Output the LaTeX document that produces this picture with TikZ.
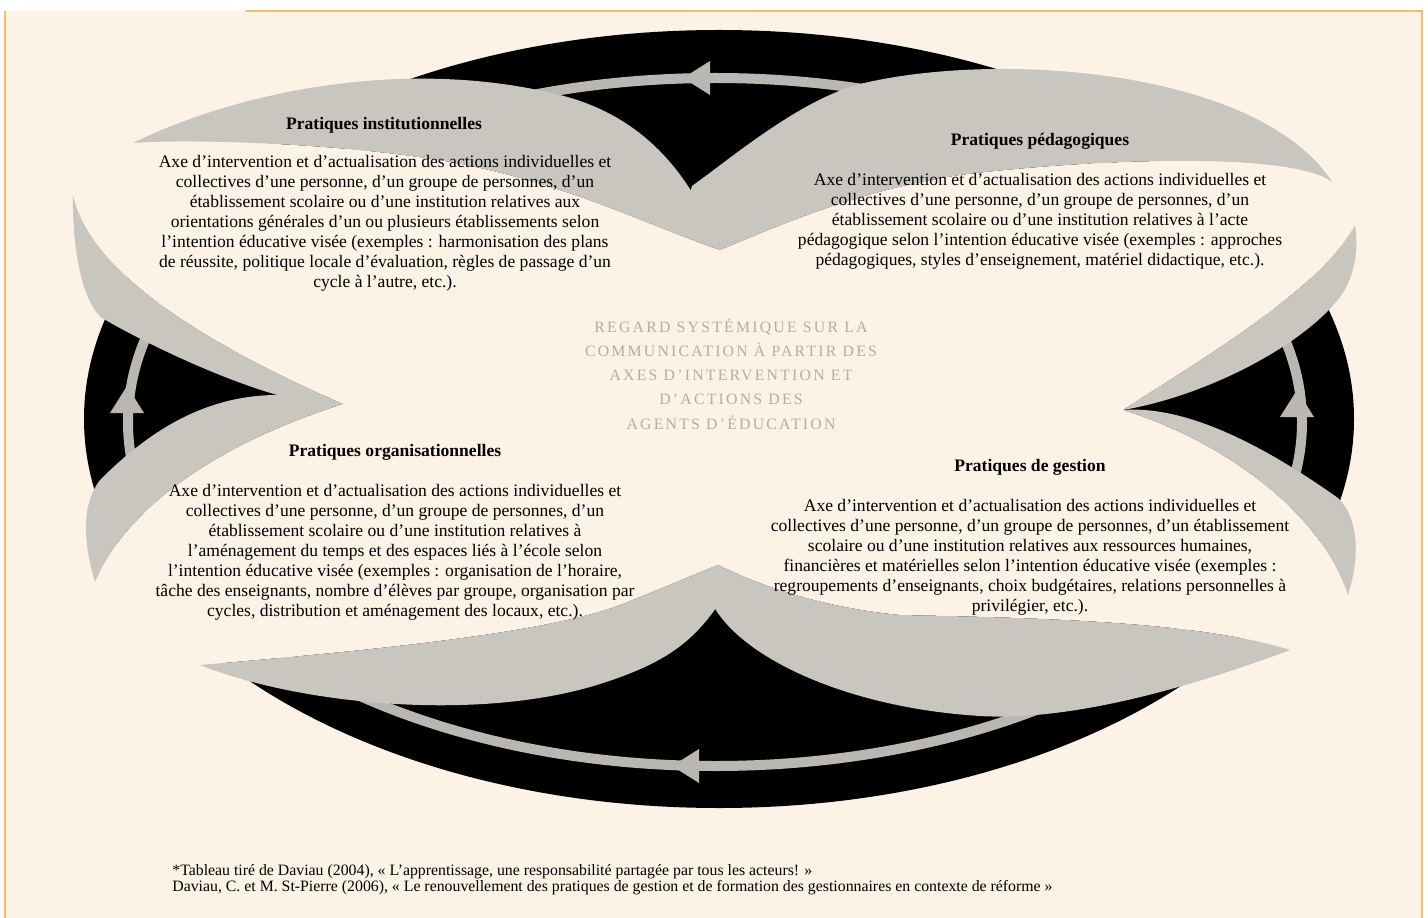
\documentclass[tikz,border=0pt]{standalone}
\usepackage{fontspec}
\setmainfont{Liberation Serif}
\newfontfamily\spacedfont[LetterSpace=14]{Liberation Serif}
\usepackage{tikz}
\usetikzlibrary{positioning}
\definecolor{mcream}{RGB}{253,242,230}
\definecolor{mgrey}{RGB}{201,197,191}
\definecolor{mring}{RGB}{186,182,177}
\definecolor{morange}{RGB}{246,190,105}
\definecolor{mtitle}{RGB}{180,172,166}

\begin{document}
\begin{tikzpicture}[x=0.2mm, y=-0.2mm,
    petal/.style={fill=mgrey},
    head/.style={font=\fontsize{10}{11.4}\selectfont\bfseries, inner sep=0pt},
    body/.style={font=\fontsize{10}{11.4}\selectfont, align=center, inner sep=0pt},
    centre/.style={font=\spacedfont\fontsize{9}{13.8}\selectfont, text=mtitle, align=center, inner sep=0pt},
    note/.style={font=\fontsize{9}{9.1}\selectfont, align=left, anchor=west, inner sep=0pt}]
      \useasboundingbox (0,0) rectangle (1428,918);
      \fill [white] (0,0) rectangle (1428,918);
      \fill [mcream] (5,11) rectangle (1422,918);
      \draw [morange, line width=0.5mm] (245,11) -- (1422,11) -- (1422,918);
      \draw [morange, line width=0.5mm] (5,11) -- (5,918);

      \fill (719,419) ellipse [x radius=635, y radius=389];
      \draw [mring, line width=2mm] (715,422) ellipse [x radius=587, y radius=344];
      \foreach \tx/\ty in {683/78, 672/766} {
        \fill [mring] (\tx,\ty) -- ++(27,-17) -- ++(0,34) -- cycle;
      }
      \foreach \tx/\ty in {127/386, 1297/390} {
        \fill [mring] (\tx,\ty) -- ++(-17,27) -- ++(34,0) -- cycle;
      }

      \fill [mcream] (133,143) .. controls (200,138) and (380,145) .. (480,168)
        .. controls (580,190) and (660,230) .. (720,250)
        .. controls (780,225) and (860,190) .. (960,175)
        .. controls (1080,160) and (1290,150) .. (1332,182)
        -- (1400,182) -- (1400,225) -- (1355,225)
        .. controls (1320,290) and (1200,360) .. (1123,410)
        .. controls (1220,440) and (1320,510) .. (1348,595)
        -- (1400,595) -- (1400,650) -- (1290,650)
        .. controls (1200,622) and (1050,618) .. (900,615)
        .. controls (800,605) and (740,575) .. (718,565)
        .. controls (700,572) and (670,585) .. (620,605)
        .. controls (540,635) and (350,652) .. (200,665)
        -- (60,665) -- (60,582) -- (95,582)
        .. controls (130,500) and (230,440) .. (343,404)
        .. controls (150,320) and (85,250) .. (73,195)
        -- (60,195) -- (60,143) -- cycle;

      \fill [petal] (133,143) .. controls (230,95) and (400,55) .. (560,95)
        .. controls (640,115) and (690,170) .. (720,250)
        .. controls (660,230) and (580,190) .. (480,168)
        .. controls (380,145) and (200,138) .. (133,143) -- cycle;
      \fill [petal] (720,250) .. controls (700,235) and (685,205) .. (692,186)
        .. controls (735,155) and (800,100) .. (860,84)
        .. controls (1000,50) and (1260,70) .. (1332,182)
        .. controls (1290,150) and (1080,160) .. (960,175)
        .. controls (860,190) and (780,225) .. (720,250) -- cycle;
      \fill [petal] (73,195) .. controls (85,250) and (150,320) .. (343,404)
        .. controls (290,412) and (160,352) .. (102,318)
        .. controls (80,300) and (72,240) .. (73,195) -- cycle;
      \fill [petal] (343,404) .. controls (230,440) and (130,500) .. (95,582)
        .. controls (80,530) and (85,500) .. (100,480)
        .. controls (160,420) and (235,375) .. (343,404) -- cycle;
      \fill [petal] (1355,225) .. controls (1320,290) and (1200,360) .. (1123,410)
        .. controls (1210,395) and (1300,345) .. (1335,303)
        .. controls (1352,285) and (1360,255) .. (1355,225) -- cycle;
      \fill [petal] (1123,410) .. controls (1220,440) and (1320,510) .. (1348,595)
        .. controls (1362,550) and (1356,515) .. (1338,498)
        .. controls (1270,450) and (1190,405) .. (1123,410) -- cycle;
      \fill [petal] (200,665) .. controls (350,652) and (540,635) .. (620,605)
        .. controls (670,585) and (700,572) .. (718,565)
        .. controls (724,580) and (725,595) .. (716,608)
        .. controls (690,645) and (660,665) .. (600,684)
        .. controls (480,722) and (300,705) .. (200,665) -- cycle;
      \fill [petal] (718,565) .. controls (740,575) and (800,605) .. (900,615)
        .. controls (1050,618) and (1200,622) .. (1290,650)
        .. controls (1210,680) and (1080,722) .. (980,716)
        .. controls (850,708) and (745,660) .. (714,607)
        .. controls (708,595) and (712,575) .. (718,565) -- cycle;

      \node (headtl) at (384,125) [head] {Pratiques institutionnelles};
      \node (bodytl) at (385,223) [body] {Axe d’intervention et d’actualisation des actions individuelles et\\
        collectives d’une personne, d’un groupe de personnes, d’un\\
        établissement scolaire ou d’une institution relatives aux\\
        orientations générales d’un ou plusieurs établissements selon\\
        l’intention éducative visée (exemples : harmonisation des plans\\
        de réussite, politique locale d’évaluation, règles de passage d’un\\
        cycle à l’autre, etc.).};
      \node (headtr) at (1040,141) [head] {Pratiques pédagogiques};
      \node (bodytr) at (1040,221) [body] {Axe d’intervention et d’actualisation des actions individuelles et\\
        collectives d’une personne, d’un groupe de personnes, d’un\\
        établissement scolaire ou d’une institution relatives à l’acte\\
        pédagogique selon l’intention éducative visée (exemples : approches\\
        pédagogiques, styles d’enseignement, matériel didactique, etc.).};
      \node (headbl) at (395,452) [head] {Pratiques organisationnelles};
      \node (bodybl) at (395,552) [body] {Axe d’intervention et d’actualisation des actions individuelles et\\
        collectives d’une personne, d’un groupe de personnes, d’un\\
        établissement scolaire ou d’une institution relatives à\\
        l’aménagement du temps et des espaces liés à l’école selon\\
        l’intention éducative visée (exemples : organisation de l’horaire,\\
        tâche des enseignants, nombre d’élèves par groupe, organisation par\\
        cycles, distribution et aménagement des locaux, etc.).};
      \node (headbr) at (1030,467) [head] {Pratiques de gestion};
      \node (bodybr) at (1030,557) [body] {Axe d’intervention et d’actualisation des actions individuelles et\\
        collectives d’une personne, d’un groupe de personnes, d’un établissement\\
        scolaire ou d’une institution relatives aux ressources humaines,\\
        financières et matérielles selon l’intention éducative visée (exemples :\\
        regroupements d’enseignants, choix budgétaires, relations personnelles à\\
        privilégier, etc.).};
      \node (centre) at (731,374) [centre] {REGARD SYSTÉMIQUE SUR LA\\
        COMMUNICATION À PARTIR DES\\
        AXES D’INTERVENTION ET\\
        D’ACTIONS DES\\
        AGENTS D’ÉDUCATION};
      \node (note) at (172,880) [note] {*Tableau tiré de Daviau (2004), « L’apprentissage, une responsabilité partagée par tous les acteurs! »\\
        Daviau, C. et M. St-Pierre (2006), « Le renouvellement des pratiques de gestion et de formation des gestionnaires en contexte de réforme »};
\end{tikzpicture}
\end{document}
